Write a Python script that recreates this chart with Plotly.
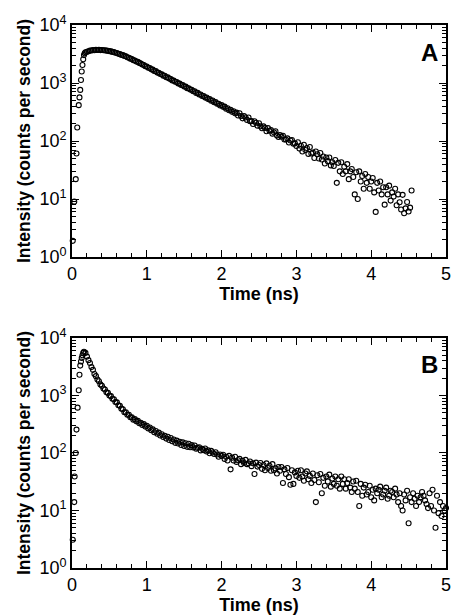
import plotly.graph_objects as go

# ---------------- Panel A data ----------------
a_rise_t = [0.01, 0.03, 0.05, 0.06, 0.07, 0.09, 0.10, 0.11, 0.12, 0.13, 0.14, 0.15, 0.16, 0.17, 0.18]
a_rise_v = [1.9, 9, 22, 61, 171, 415, 565, 760, 1130, 1580, 2040, 2570, 3030, 3250, 3400]

a_t = [0.20, 0.22, 0.24, 0.26, 0.28, 0.30, 0.32, 0.34, 0.36, 0.38, 0.40, 0.42, 0.44, 0.46, 0.48,
       0.50, 0.52, 0.54, 0.56, 0.58, 0.60, 0.62, 0.64, 0.66, 0.68, 0.70, 0.72, 0.74, 0.76, 0.78,
       0.80, 0.82, 0.84, 0.86, 0.88, 0.90, 0.92, 0.94, 0.96, 0.98, 1.00, 1.02, 1.04, 1.06, 1.08,
       1.10, 1.12, 1.14, 1.16, 1.18, 1.20, 1.22, 1.24, 1.26, 1.28, 1.30, 1.32, 1.34, 1.36, 1.38,
       1.40, 1.42, 1.44, 1.46, 1.48, 1.50, 1.52, 1.54, 1.56, 1.58, 1.60, 1.62, 1.64, 1.66, 1.68,
       1.70, 1.72, 1.74, 1.76, 1.78, 1.80, 1.82, 1.84, 1.86, 1.88, 1.90, 1.92, 1.94, 1.96, 1.98,
       2.00, 2.02, 2.04, 2.06, 2.08, 2.10, 2.12, 2.14, 2.16, 2.18, 2.20, 2.22, 2.24, 2.26, 2.28,
       2.30, 2.32, 2.34, 2.36, 2.38, 2.40, 2.42, 2.44, 2.46, 2.48, 2.50, 2.52, 2.54, 2.56, 2.58,
       2.60, 2.62, 2.64, 2.66, 2.68, 2.70, 2.72, 2.74, 2.76, 2.78, 2.80, 2.82, 2.84, 2.86, 2.88,
       2.90, 2.92, 2.94, 2.96, 2.98, 3.00, 3.02, 3.04, 3.06, 3.08, 3.10, 3.12, 3.14, 3.16, 3.18,
       3.20, 3.22, 3.24, 3.26, 3.28, 3.30, 3.32, 3.34, 3.36, 3.38, 3.40, 3.42, 3.44, 3.46, 3.48,
       3.50, 3.52, 3.54, 3.56, 3.58, 3.60, 3.62, 3.64, 3.66, 3.68, 3.70, 3.72, 3.74, 3.76, 3.78,
       3.80, 3.82, 3.84, 3.86, 3.88, 3.90, 3.92, 3.94, 3.96, 3.98, 4.00, 4.02, 4.04, 4.06, 4.08,
       4.10, 4.12, 4.14, 4.16, 4.18, 4.20, 4.22, 4.24, 4.26, 4.28, 4.30, 4.32, 4.34, 4.36, 4.38,
       4.40, 4.42, 4.44, 4.46, 4.48, 4.50, 4.52, 4.54]
a_v = [3450, 3510, 3620, 3630, 3690, 3680, 3720, 3710, 3730, 3690, 3700, 3660, 3670, 3610, 3600,
       3540, 3510, 3440, 3410, 3320, 3290, 3180, 3160, 3050, 3030, 2930, 2880, 2780, 2720, 2630,
       2590, 2480, 2440, 2350, 2310, 2220, 2170, 2080, 2040, 1940, 1920, 1830, 1810, 1720, 1700,
       1610, 1600, 1510, 1500, 1430, 1410, 1340, 1330, 1260, 1250, 1190, 1170, 1110, 1100, 1050,
       1040, 985, 975, 925, 920, 870, 865, 815, 810, 770, 765, 720, 720, 675, 675,
       635, 635, 598, 598, 560, 562, 528, 530, 495, 498, 465, 468, 438, 440, 410,
       415, 388, 392, 360, 368, 340, 345, 318, 325, 300, 308, 276, 301, 270, 246,
       269, 254, 231, 255, 220, 220, 196, 219, 206, 184, 203, 179, 166, 179, 168,
       147, 167, 150, 154, 134, 141, 147, 125, 117, 127, 119, 123, 106, 106, 111,
       94, 102, 104, 90, 91, 82, 95, 74, 83, 66, 86, 70, 76, 60, 79,
       61, 63, 51, 66, 59, 50, 62, 48, 54, 41, 52, 45, 52, 38, 43,
       37, 47, 19, 42, 30, 43, 27, 36, 30, 40, 22, 30, 33, 24, 12,
       29, 10, 30, 20, 25, 15, 27, 19, 24, 15, 20, 23, 13, 6, 19,
       14, 20, 12, 16, 8, 16, 12, 17, 9.4, 13, 11, 15, 7.8, 12, 8.8,
       6.6, 11.8, 5.7, 6.9, 8.9, 6.1, 7.1, 14]

# ---------------- Panel B data ----------------
b_rise_t = [0.01, 0.03, 0.035, 0.05, 0.06, 0.075, 0.09, 0.10, 0.11, 0.12, 0.13, 0.14, 0.15, 0.16]
b_rise_v = [3.1, 14, 39, 100, 255, 615, 1230, 2290, 3310, 3900, 4500, 5000, 5500, 5750]

b_t = [0.18, 0.20, 0.22, 0.24, 0.26, 0.28, 0.30, 0.32, 0.34, 0.36, 0.38, 0.40, 0.42, 0.44, 0.46,
       0.48, 0.50, 0.52, 0.54, 0.56, 0.58, 0.60, 0.62, 0.64, 0.66, 0.68, 0.70, 0.72, 0.74, 0.76,
       0.78, 0.80, 0.82, 0.84, 0.86, 0.88, 0.90, 0.92, 0.94, 0.96, 0.98, 1.00, 1.02, 1.04, 1.06,
       1.08, 1.10, 1.12, 1.14, 1.16, 1.18, 1.20, 1.22, 1.24, 1.26, 1.28, 1.30, 1.32, 1.34, 1.36,
       1.38, 1.40, 1.42, 1.44, 1.46, 1.48, 1.50, 1.52, 1.54, 1.56, 1.58, 1.60, 1.62, 1.64, 1.66,
       1.68, 1.70, 1.72, 1.74, 1.76, 1.78, 1.80, 1.82, 1.84, 1.86, 1.88, 1.90, 1.92, 1.94, 1.96,
       1.98, 2.00, 2.02, 2.04, 2.06, 2.08, 2.10, 2.12, 2.14, 2.16, 2.18, 2.20, 2.22, 2.24, 2.26,
       2.28, 2.30, 2.32, 2.34, 2.36, 2.38, 2.40, 2.42, 2.44, 2.46, 2.48, 2.50, 2.52, 2.54, 2.56,
       2.58, 2.60, 2.62, 2.64, 2.66, 2.68, 2.70, 2.72, 2.74, 2.76, 2.78, 2.80, 2.82, 2.84, 2.86,
       2.88, 2.90, 2.92, 2.94, 2.96, 2.98, 3.00, 3.02, 3.04, 3.06, 3.08, 3.10, 3.12, 3.14, 3.16,
       3.18, 3.20, 3.22, 3.24, 3.26, 3.28, 3.30, 3.32, 3.34, 3.36, 3.38, 3.40, 3.42, 3.44, 3.46,
       3.48, 3.50, 3.52, 3.54, 3.56, 3.58, 3.60, 3.62, 3.64, 3.66, 3.68, 3.70, 3.72, 3.74, 3.76,
       3.78, 3.80, 3.82, 3.84, 3.86, 3.88, 3.90, 3.92, 3.94, 3.96, 3.98, 4.00, 4.02, 4.04, 4.06,
       4.08, 4.10, 4.12, 4.14, 4.16, 4.18, 4.20, 4.22, 4.24, 4.26, 4.28, 4.30, 4.32, 4.34, 4.36,
       4.38, 4.40, 4.42, 4.44, 4.46, 4.48, 4.50, 4.52, 4.54, 4.56, 4.58, 4.60, 4.62, 4.64, 4.66,
       4.68, 4.70, 4.72, 4.74, 4.76, 4.78, 4.80, 4.82, 4.84, 4.86, 4.88, 4.90, 4.92, 4.94, 4.96,
       4.98, 5.00]
b_v = [5500, 4750, 4120, 3680, 3120, 2790, 2370, 2170, 1900, 1770, 1560, 1470, 1320, 1270, 1140,
       1110, 1000, 975, 880, 860, 770, 760, 675, 660, 590, 575, 510, 510, 462, 462,
       418, 418, 380, 388, 355, 362, 330, 336, 308, 318, 288, 298, 268, 278, 248,
       258, 230, 242, 216, 226, 202, 212, 190, 200, 178, 192, 168, 182, 160, 172,
       150, 164, 146, 157, 138, 153, 132, 148, 128, 145, 126, 137, 125, 135, 119,
       123, 126, 111, 118, 112, 120, 106, 111, 99, 109, 102, 96, 103, 94, 86,
       94, 89, 93, 79, 86, 74, 89, 52, 83, 74, 86, 70, 75, 79, 64,
       73, 67, 76, 64, 66, 71, 59, 66, 43, 68, 58, 62, 67, 53, 62,
       50, 66, 55, 60, 49, 64, 50, 54, 44, 57, 49, 57, 30, 52, 43,
       55, 38, 28, 50, 29, 46, 40, 49, 37, 50, 39, 33, 44, 48, 35,
       40, 30, 44, 34, 14, 41, 31, 43, 20, 37, 27, 39, 32, 42, 26,
       36, 29, 39, 27, 35, 24, 39, 29, 35, 24, 30, 35, 25, 21, 32,
       24, 33, 21, 12, 29, 18, 25, 28, 19, 21, 27, 17, 23, 15, 24,
       20, 23, 26, 17, 19, 22, 25, 16, 18, 22, 21, 17, 24, 19, 14,
       20, 12, 10, 19, 15, 22, 6, 17, 14, 20, 16, 12, 18, 14, 17,
       21, 18, 15, 13, 11, 20, 12, 23, 10, 5, 18, 9, 14, 8, 12,
       10, 11]

y_tickvals = [1, 10, 100, 1000, 10000]
y_ticktext = ["10<sup>0</sup>", "10<sup>1</sup>", "10<sup>2</sup>", "10<sup>3</sup>", "10<sup>4</sup>"]
x_tickvals = [0, 1, 2, 3, 4, 5]
panel_labels = ["A", "B"]

FONT = "Liberation Sans, Arial, Helvetica, sans-serif"
marker = dict(symbol="circle-open", size=5, color="black", line=dict(width=1.1, color="black"))

fig = go.Figure()
fig.add_trace(go.Scatter(x=a_rise_t + a_t, y=a_rise_v + a_v, mode="markers", marker=marker,
                         xaxis="x", yaxis="y", showlegend=False, cliponaxis=False))
fig.add_trace(go.Scatter(x=b_rise_t + b_t, y=b_rise_v + b_v, mode="markers", marker=marker,
                         xaxis="x2", yaxis="y2", showlegend=False, cliponaxis=False))

def xax(anchor):
    return dict(anchor=anchor, domain=[0, 1], range=[0, 5], tickvals=x_tickvals,
                automargin=False,
                ticks="inside", ticklen=7, tickwidth=1.3, tickcolor="black",
                showline=True, linecolor="black", linewidth=1.6, mirror="allticks",
                showgrid=False, zeroline=False,
                minor=dict(dtick=0.2, tick0=0, ticks="inside", ticklen=4, tickwidth=1,
                           tickcolor="black", showgrid=False),
                tickfont=dict(family=FONT, size=18, color="black"),
                title=dict(text="Time (ns)", font=dict(family=FONT, size=18, color="black", weight="bold"),
                           standoff=4))

def yax(anchor, domain):
    return dict(anchor=anchor, domain=domain, type="log", range=[0, 4],
                tickvals=y_tickvals, ticktext=y_ticktext, automargin=False,
                ticks="inside", ticklen=7, tickwidth=1.3, tickcolor="black",
                showline=True, linecolor="black", linewidth=1.6, mirror="allticks",
                showgrid=False, zeroline=False,
                minor=dict(dtick="D1", ticks="inside", ticklen=4,
                           tickwidth=1, tickcolor="black", showgrid=False),
                tickfont=dict(family=FONT, size=18, color="black"),
                title=dict(text="Intensity (counts per second)",
                           font=dict(family=FONT, size=17.5, color="black", weight="bold"),
                           standoff=4))

fig.update_layout(
    width=452, height=615,
    margin=dict(l=72, r=6, t=25, b=47),
    paper_bgcolor="white", plot_bgcolor="white",
    xaxis=xax("y"), yaxis=yax("x", [0.5727, 1.0]),
    xaxis2=xax("y2"), yaxis2=yax("x2", [0.0, 0.4236]),
    annotations=[
        dict(text=panel_labels[0], xref="x domain", yref="y domain", x=0.985, y=0.95,
             xanchor="right", yanchor="top", showarrow=False,
             font=dict(family=FONT, size=24, color="black", weight="bold")),
        dict(text=panel_labels[1], xref="x2 domain", yref="y2 domain", x=0.985, y=0.95,
             xanchor="right", yanchor="top", showarrow=False,
             font=dict(family=FONT, size=24, color="black", weight="bold")),
    ],
)

fig.write_html("out.html", config={"displayModeBar": False},
               post_script="document.body.style.margin='0';")
